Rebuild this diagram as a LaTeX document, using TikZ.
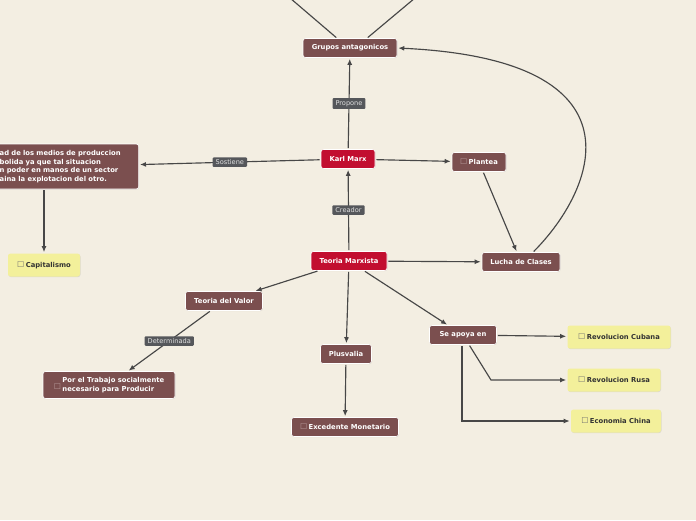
\documentclass[tikz,border=0pt]{standalone}
\usepackage{fontspec}
\setmainfont{DejaVu Sans}
\usepackage{tikz}
\usetikzlibrary{arrows.meta}
\usetikzlibrary{shadows}

\definecolor{fondo}{HTML}{F3EEE2}
\definecolor{marron}{HTML}{7B4F4F}
\definecolor{rojo}{HTML}{C20E30}
\definecolor{amarillo}{HTML}{F3F09B}
\definecolor{gris}{HTML}{55575B}
\definecolor{linea}{HTML}{474747}
\definecolor{chkclaro}{HTML}{B89C9C}
\definecolor{chkgris}{HTML}{707070}

\newcommand{\chkbox}[1]{\textcolor{#1}{\normalfont\fontsize{8}{8}\selectfont ☐}\kern1.5pt}

\begin{document}
\begin{tikzpicture}[x=1pt, y=-1pt, >={Latex[length=6pt,width=5pt]},
		base/.style={rounded corners=2.5pt, inner xsep=5pt, inner ysep=0pt,
			minimum height=19pt, font=\fontsize{6.8}{8.7}\selectfont\bfseries,
			draw=white, line width=0.6pt,
			drop shadow={opacity=0.2, shadow xshift=0.5pt, shadow yshift=-0.6pt}},
		tema/.style={base, fill=marron, text=white},
		central/.style={base, fill=rojo, text=white},
		hoja/.style={base, fill=amarillo, draw=none, text=black!80, minimum height=23pt},
		etiqueta/.style={fill=gris, text=black!12, rounded corners=1pt,
			font=\fontsize{6.6}{7}\selectfont, inner xsep=3pt, inner ysep=2.2pt},
		enlace/.style={draw=linea, line width=1.15pt, shorten >=1pt, shorten <=1pt}]
		\useasboundingbox[fill=fondo] (0,0) rectangle (696,520);

		% nodos principales
		\node[central, minimum width=76pt] (tm) at (349,261) {Teoria Marxista};
		\node[central, minimum width=54pt] (km) at (348,159) {Karl Marx};
		\node[tema, minimum width=94pt] (ga) at (350,48) {Grupos antagonicos};
		\node[tema, minimum width=54pt] (pl) at (479,162) {\chkbox{chkclaro}Plantea};
		\node[tema, minimum width=78pt] (lc) at (521,262) {Lucha de Clases};
		\node[tema, anchor=east, align=left, text width=135pt, inner xsep=4pt,
			minimum height=45pt] (pp) at (139,166.5)
			{ad de los medios de produccion\\bolida ya que tal situacion\\n poder en manos de un sector\\aina la explotacion del otro.};
		\node[hoja, minimum width=72pt] (cap) at (44,265) {\chkbox{chkgris}Capitalismo};
		\node[tema, minimum width=77pt] (tv) at (224,301) {Teoria del Valor};
		\node[tema, align=left, minimum height=27pt, minimum width=132pt] (tr) at (109,385)
			{\raisebox{-2.5pt}{\chkbox{chkclaro}}\begin{tabular}{@{}l@{}}Por el Trabajo socialmente\\necesario para Producir\end{tabular}};
		\node[tema, minimum width=51pt] (pv) at (346,354) {Plusvalia};
		\node[tema, minimum width=107pt] (em) at (345,427) {\chkbox{chkclaro}Excedente Monetario};
		\node[tema, minimum width=67pt] (sa) at (463,335) {Se apoya en};
		\node[hoja, minimum width=103pt] (rc) at (619,337) {\chkbox{chkgris}Revolucion Cubana};
		\node[hoja, minimum width=93pt] (rr) at (614,380) {\chkbox{chkgris}Revolucion Rusa};
		\node[hoja, minimum width=90pt] (ec) at (616,421) {\chkbox{chkgris}Economia China};

		\coordinate (arr1) at (290,-2);
		\coordinate (arr2) at (415,-2);
		\coordinate (codo) at (491,380);

		% conexiones
		\draw[enlace] (arr1) -- ([xshift=-13pt]ga.north);
		\draw[enlace] (arr2) -- ([xshift=17pt]ga.north);
		\draw[enlace, ->] (km) -- node[etiqueta] {Propone} (ga);
		\draw[enlace, ->] (tm) -- node[etiqueta] {Creador} (km);
		\draw[enlace, ->] (km) -- node[etiqueta] {Sostiene} (pp);
		\draw[enlace, ->] (km) -- (pl);
		\draw[enlace, ->] (pl) -- (lc);
		\draw[enlace, ->] ([xshift=12pt]lc.north) .. controls (595,190) and (650,60) .. (ga.east);
		\draw[enlace, ->] (tm) -- (lc);
		\draw[enlace, ->] (cap.north |- pp.south) -- (cap);
		\draw[enlace, ->] (tm) -- (tv);
		\draw[enlace, ->] (tm) -- (pv);
		\draw[enlace, ->] (tm) -- (sa);
		\draw[enlace, ->] (tv) -- node[etiqueta] {Determinada} (tr);
		\draw[enlace, ->] (pv) -- (em);
		\draw[enlace, ->] (sa) -- (rc);
		\draw[enlace, ->] (sa) -- (codo) -- (rr);
		\draw[enlace, ->] ([xshift=-1pt]sa.south) |- (ec);
	\end{tikzpicture}
\end{document}
